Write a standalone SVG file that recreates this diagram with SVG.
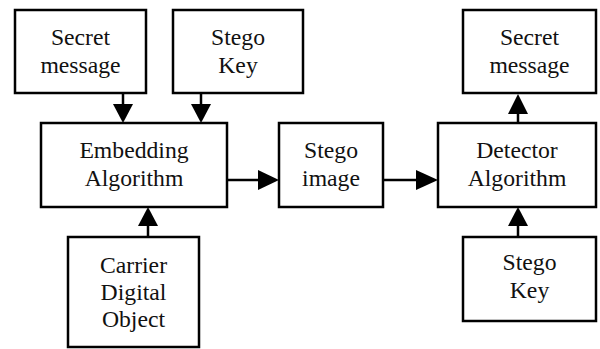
<svg xmlns="http://www.w3.org/2000/svg" width="600" height="349" viewBox="0 0 600 349">
<defs>
<style>
.box{fill:#fff;stroke:#000;stroke-width:2.5}
.t{font-family:"Liberation Serif","Times New Roman",serif;font-size:23.7px;fill:#111;text-anchor:middle}
.c line{stroke:#000;stroke-width:2.5}
.c polygon{fill:#000}
</style>
</defs>
<rect width="600" height="349" fill="#fff"/>
<g id="secret1"><rect class="box" x="15" y="10" width="131" height="83"/><text class="t" x="80.5" y="45">Secret</text><text class="t" x="80.5" y="73">message</text></g>
<g id="key1"><rect class="box" x="173" y="10" width="130" height="83"/><text class="t" x="238" y="45">Stego</text><text class="t" x="238" y="73">Key</text></g>
<g id="embed"><rect class="box" x="41" y="123" width="186" height="84"/><text class="t" x="134" y="158">Embedding</text><text class="t" x="134" y="186">Algorithm</text></g>
<g id="stegoimg"><rect class="box" x="279" y="123" width="104" height="84"/><text class="t" x="331" y="158">Stego</text><text class="t" x="331" y="186">image</text></g>
<g id="detector"><rect class="box" x="438" y="123" width="158" height="84"/><text class="t" x="517" y="158">Detector</text><text class="t" x="517" y="186">Algorithm</text></g>
<g id="secret2"><rect class="box" x="463" y="10" width="133" height="83"/><text class="t" x="529.5" y="45">Secret</text><text class="t" x="529.5" y="73">message</text></g>
<g id="carrier"><rect class="box" x="68" y="237" width="131" height="110"/><text class="t" x="133.5" y="273">Carrier</text><text class="t" x="133.5" y="300">Digital</text><text class="t" x="133.5" y="327">Object</text></g>
<g id="key2"><rect class="box" x="463" y="237" width="133" height="84"/><text class="t" x="529.5" y="270">Stego</text><text class="t" x="529.5" y="298">Key</text></g>
<g id="connectors" class="c">
<line x1="123" y1="93" x2="123" y2="104"/><polygon points="113,104 133,104 123,123"/>
<line x1="201" y1="93" x2="201" y2="104"/><polygon points="191,104 211,104 201,123"/>
<line x1="148" y1="237" x2="148" y2="226"/><polygon points="138,226 158,226 148,207"/>
<line x1="227" y1="180" x2="258" y2="180"/><polygon points="258,170 258,190 279,180"/>
<line x1="383" y1="180" x2="416" y2="180"/><polygon points="416,170 416,190 438,180"/>
<line x1="518" y1="123" x2="518" y2="113"/><polygon points="508,114 528,114 518,94"/>
<line x1="518" y1="237" x2="518" y2="226"/><polygon points="508,226 528,226 518,207"/>
</g>
</svg>
